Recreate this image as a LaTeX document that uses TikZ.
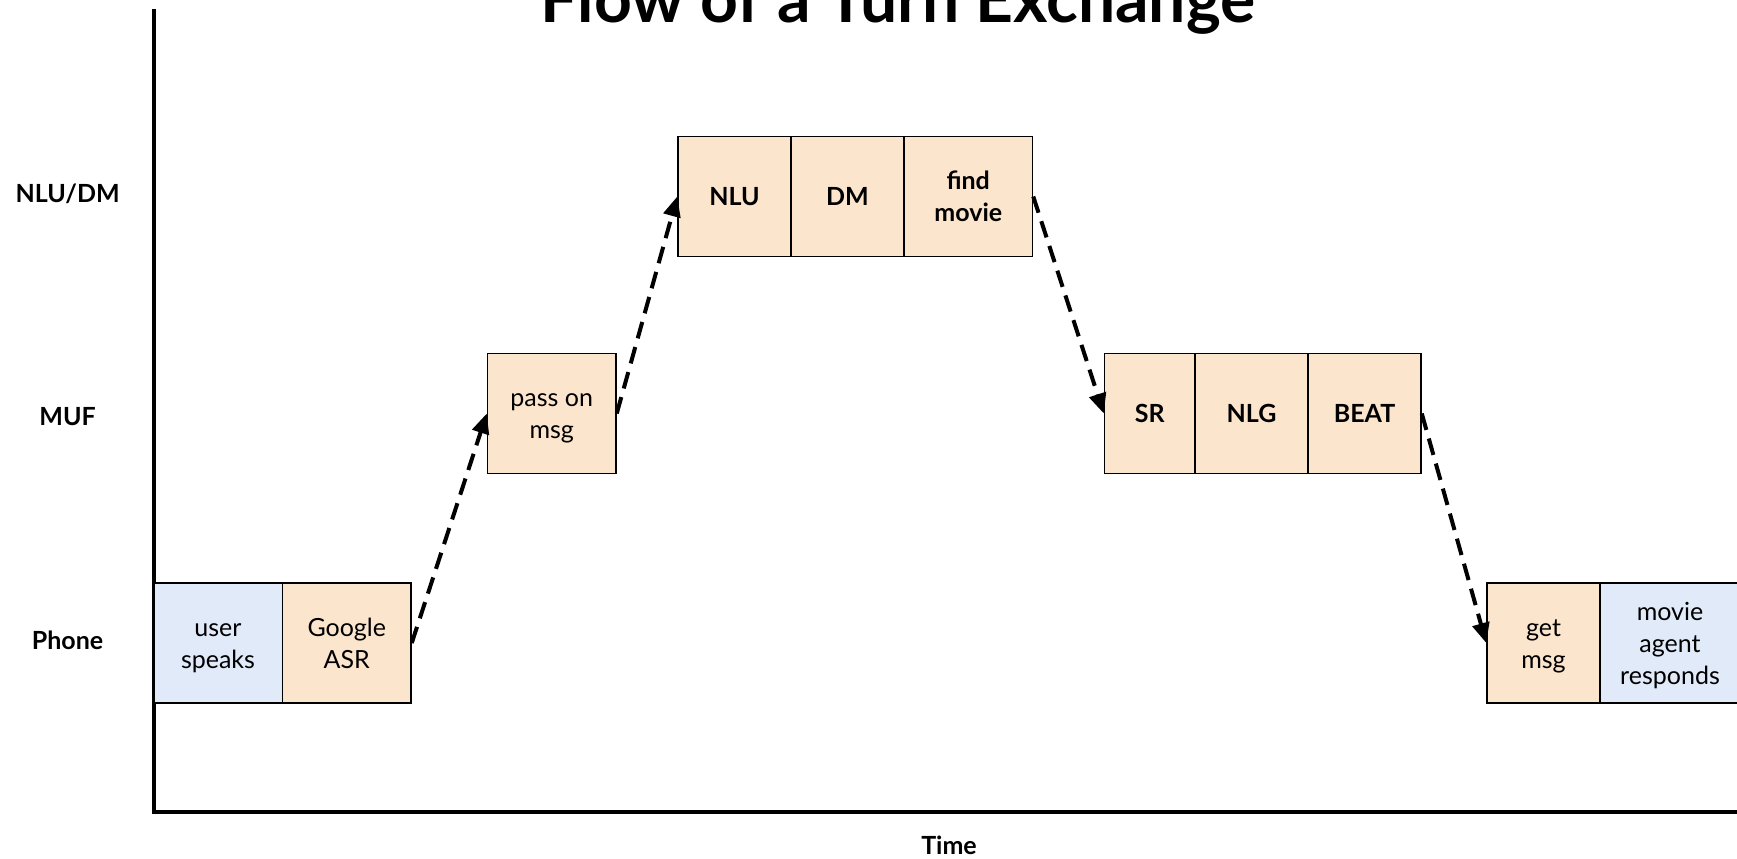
\documentclass[tikz,border=0pt]{standalone}
\usepackage{fontspec}
\setmainfont{Lato}
\usetikzlibrary{arrows.meta}
\definecolor{peach}{HTML}{FCE5CD}
\definecolor{paleblue}{HTML}{E1EAF8}
\newcommand{\vstr}{\rule[-6pt]{0pt}{30pt}}
\begin{document}
\begin{tikzpicture}[x=1pt,y=-1pt,
box/.style={draw,line width=1.5pt,align=center,inner sep=0pt,minimum height=120pt,font=\fontsize{25}{32}\selectfont},
task/.style={box,fill=peach},
user/.style={box,fill=paleblue},
strong/.style={font=\fontsize{25}{32}\selectfont\bfseries},
lane/.style={font=\fontsize{25}{33}\selectfont\bfseries},
hop/.style={line width=4pt,dash pattern=on 17pt off 9pt,-{Triangle[length=20pt,width=17pt]}}]
\clip (0,0) rectangle (1737,859);
\node (title) at (898,23) [anchor=base,font=\fontsize{66}{78}\selectfont\bfseries] {Flow of a Turn Exchange};
\draw [line width=4pt] (154,9)--(154,812)--(1737,812);
\node (nludm) at (67.6,194) [lane] {NLU/DM};
\node (muf) at (67.6,416.5) [lane] {MUF};
\node (phone) at (67.6,640) [lane] {Phone};
\node (time) at (949,845) [lane] {Time};
\node (user) at (218,643) [user,minimum width=128.5pt] {\vstr user\\speaks\vstr};
\node (asr) at (346.75,643) [task,minimum width=128.5pt] {\vstr Google\\ASR\vstr};
\node (pass) at (551.75,413.5) [task,minimum width=128.5pt] {\vstr pass on\\msg\vstr};
\node (nlu) at (734.5,196.5) [task,strong,minimum width=113pt] {NLU};
\node (dm) at (847.5,196.5) [task,strong,minimum width=113pt] {DM};
\node (find) at (968.25,196.5) [task,strong,minimum width=128.5pt] {\vstr find\\movie\vstr};
\node (sr) at (1149.75,413.5) [task,strong,minimum width=90.5pt] {SR};
\node (nlg) at (1251.5,413.5) [task,strong,minimum width=113pt] {NLG};
\node (beat) at (1364.5,413.5) [task,strong,minimum width=113pt] {BEAT};
\node (get) at (1543.5,643) [task,minimum width=113pt] {\vstr get\\msg\vstr};
\node (agent) at (1670,643) [user,minimum width=140pt] {\vstr movie\\agent\\responds\vstr};
\draw [hop] (asr.east)--(pass.west);
\draw [hop] (pass.east)--(nlu.west);
\draw [hop] (find.east)--(sr.west);
\draw [hop] (beat.east)--(get.west);
\end{tikzpicture}
\end{document}
